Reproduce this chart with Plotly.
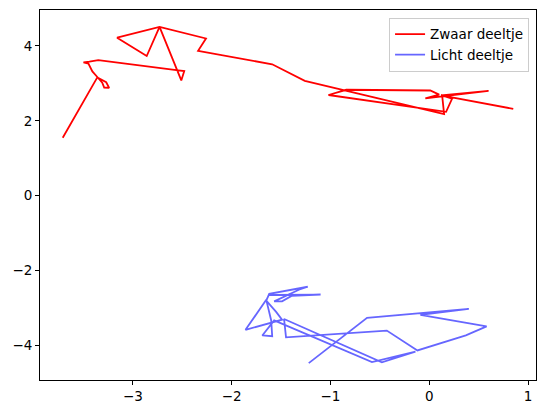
import plotly.graph_objects as go

# path of the heavy particle
zwaar_x = [-3.71, -3.36, -3.27, -3.24, -3.29, -3.31, -3.36, -3.41, -3.45, -3.50,
           -3.44, -3.35, -2.54, -2.48, -2.51, -2.73, -2.86, -3.16, -2.73, -2.26,
           -2.34, -1.59, -1.26, 0.15, 0.13, 0.23, 0.17, -1.02, -0.84, 0.01,
           0.10, -0.04, 0.60, 0.12, 0.85]
zwaar_y = [1.55, 3.16, 3.03, 2.88, 2.89, 3.02, 3.17, 3.32, 3.53, 3.56,
           3.58, 3.62, 3.35, 3.33, 3.08, 4.51, 3.73, 4.22, 4.51, 4.20,
           3.87, 3.51, 3.07, 2.18, 2.68, 2.59, 2.24, 2.69, 2.83, 2.81,
           2.70, 2.60, 2.80, 2.68, 2.32]

# path of the light particle
licht_x = [-1.22, -0.63, 0.40, -0.09, 0.58, 0.37, -0.12, -0.43, -1.45, -1.47,
           -0.48, -0.14, -0.58, -1.57, -1.69, -1.59, -1.60, -1.65, -1.86, -1.49,
           -1.55, -1.65, -1.62, -1.23, -1.32, -1.57, -1.49, -1.39, -1.10, -1.62]
licht_y = [-4.47, -3.26, -3.02, -3.18, -3.49, -3.73, -4.13, -3.60, -3.78, -3.29,
           -4.45, -4.16, -4.44, -3.33, -3.73, -3.75, -3.33, -2.78, -3.58, -3.31,
           -3.10, -2.80, -2.62, -2.43, -2.51, -2.82, -2.82, -2.67, -2.64, -2.65]

fig = go.Figure()
fig.add_trace(go.Scatter(x=zwaar_x, y=zwaar_y, mode="lines", name="Zwaar deeltje",
                         line=dict(color="red", width=1.8)))
fig.add_trace(go.Scatter(x=licht_x, y=licht_y, mode="lines", name="Licht deeltje",
                         line=dict(color="rgba(0,0,255,0.6)", width=1.8)))

axis_style = dict(showgrid=False, zeroline=False, showline=True, linecolor="black",
                  linewidth=1, mirror=True, ticks="outside", ticklen=4,
                  tickcolor="black", tickfont=dict(size=13.5, color="black"))

fig.update_xaxes(range=[-3.94, 1.08], tickvals=[-3, -2, -1, 0, 1], **axis_style)
fig.update_yaxes(range=[-4.92, 4.96], tickvals=[-4, -2, 0, 2, 4], **axis_style)

# page body has an 8px margin, so the figure is sized to the remaining viewport
fig.update_layout(
    width=538, height=405,
    margin=dict(l=32, r=10, t=2, b=33),
    paper_bgcolor="white", plot_bgcolor="white",
    font=dict(family="DejaVu Sans", size=13.5, color="black"),
    legend=dict(x=0.986, y=0.979, xanchor="right", yanchor="top", itemwidth=30,
                bgcolor="rgba(255,255,255,0.8)", bordercolor="#cccccc", borderwidth=1,
                font=dict(size=13.5)),
)

fig.write_html("out.html")
